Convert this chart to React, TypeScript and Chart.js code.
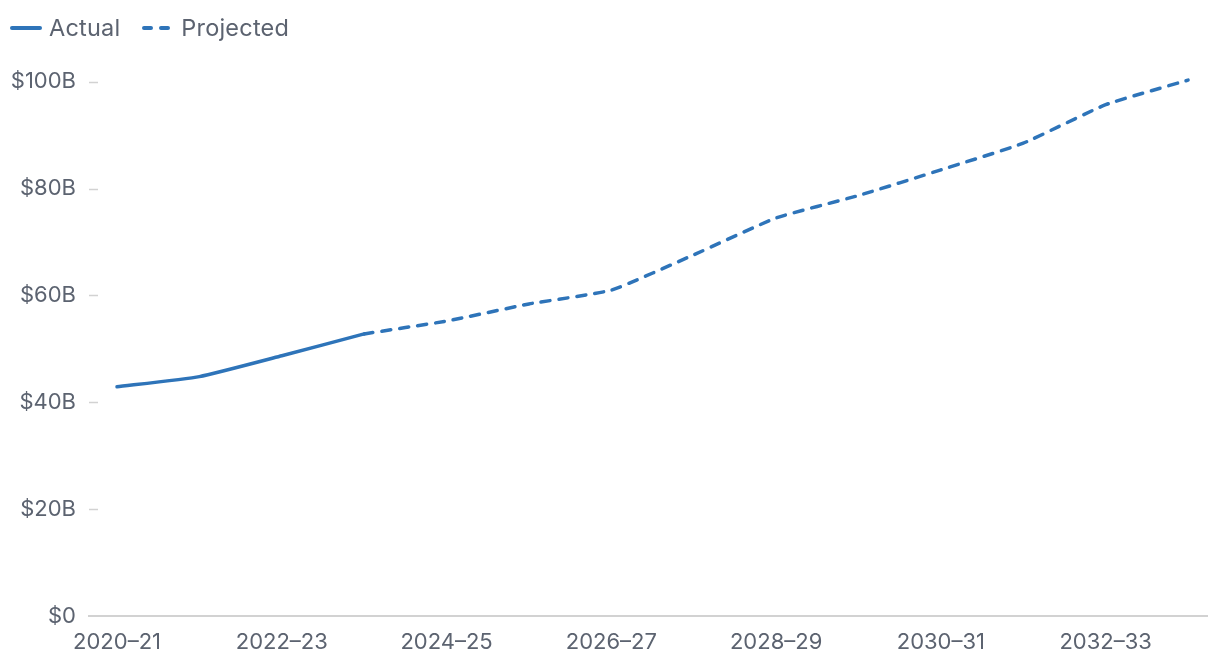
import React, { useEffect, useRef } from "react";
import { Chart, registerables } from "chart.js";

Chart.register(...registerables);

const categories = [
  "2020–21", "2021–22", "2022–23", "2023–24", "2024–25", "2025–26", "2026–27",
  "2027–28", "2028–29", "2029–30", "2030–31", "2031–32", "2032–33", "2033–34",
];
const actualValues: (number | null)[] = [42.9, 44.8, 48.7, 52.8, null, null, null, null, null, null, null, null, null, null];
const projectedValues: (number | null)[] = [null, null, null, 52.8, 55.2, 58.4, 61.0, 67.6, 74.5, 78.7, 83.5, 88.5, 95.7, 100.3];
const yTicks = [0, 20, 40, 60, 80, 100];
const xTickIndices = [0, 2, 4, 6, 8, 10, 12];

const BLUE = "#2e74b9";
const GRAY_TEXT = "#5c6370";
const AXIS = "#d2d2d2";
const FONT = "Inter, 'Noto Sans', sans-serif";

const toPoints = (vals: (number | null)[]) =>
  vals.map((v, i) => ({ x: i, y: v }));

const yTickMarks = {
  id: "yTickMarks",
  afterDraw(chart: any) {
    const { ctx, chartArea, scales } = chart;
    const y = scales.y;
    ctx.save();
    ctx.strokeStyle = AXIS;
    ctx.lineWidth = 1.5;
    for (const v of yTicks) {
      if (v === 0) continue;
      const py = Math.round(y.getPixelForValue(v)) + 0.5;
      ctx.beginPath();
      ctx.moveTo(chartArea.left, py);
      ctx.lineTo(chartArea.left + 9, py);
      ctx.stroke();
    }
    ctx.restore();
  },
};

export default function App() {
  const ref = useRef<HTMLCanvasElement | null>(null);

  useEffect(() => {
    if (!ref.current) return;
    const chart = new Chart(ref.current, {
      type: "line",
      data: {
        datasets: [
          {
            label: "Actual",
            data: toPoints(actualValues),
            borderColor: BLUE,
            borderWidth: 3.5,
            pointRadius: 0,
            tension: 0.15,
            borderCapStyle: "round",
            borderJoinStyle: "round",
            spanGaps: false,
          },
          {
            label: "Projected",
            data: toPoints(projectedValues),
            borderColor: BLUE,
            borderWidth: 3.5,
            borderDash: [9, 9],
            pointRadius: 0,
            tension: 0.15,
            borderCapStyle: "round",
            borderJoinStyle: "round",
            spanGaps: false,
          },
        ],
      },
      options: {
        animation: false,
        responsive: false,
        maintainAspectRatio: false,
        layout: { padding: { top: 55, right: 13, left: 0, bottom: 0 } },
        plugins: {
          legend: { display: false },
          tooltip: { enabled: false },
        },
        scales: {
          x: {
            type: "linear",
            min: -0.34,
            max: 13.23,
            afterBuildTicks: (scale: any) => {
              scale.ticks = xTickIndices.map((v) => ({ value: v }));
            },
            afterFit: (scale: any) => {
              scale.height = 50;
            },
            grid: { display: false, drawTicks: false },
            border: { display: true, color: AXIS, width: 2 },
            ticks: {
              autoSkip: false,
              maxRotation: 0,
              padding: 13,
              color: GRAY_TEXT,
              font: { family: FONT, size: 22 },
              callback: (v: any) => categories[Number(v)] ?? "",
            },
          },
          y: {
            type: "linear",
            min: 0,
            max: 105,
            afterBuildTicks: (scale: any) => {
              scale.ticks = yTicks.map((v) => ({ value: v }));
            },
            afterFit: (scale: any) => {
              scale.width = 89;
            },
            grid: { display: false, drawTicks: false },
            border: { display: false },
            ticks: {
              padding: 13,
              color: GRAY_TEXT,
              font: { family: FONT, size: 22 },
              callback: (v: any) => (Number(v) === 0 ? "$0" : `$${v}B`),
            },
          },
        },
      },
      plugins: [yTickMarks],
    } as any);
    return () => chart.destroy();
  }, []);

  return (
    <div style={{ position: "absolute", left: 0, top: 0, width: 1220, height: 666, background: "#fff" }}>
      <div
        style={{
          position: "absolute",
          left: 10,
          top: 13,
          display: "flex",
          alignItems: "center",
          fontFamily: FONT,
          fontSize: 23.5,
          letterSpacing: 0.2,
          color: GRAY_TEXT,
          lineHeight: "30px",
        }}
      >
        <span style={{ display: "inline-block", width: 32, height: 4, background: BLUE, borderRadius: 2, marginRight: 7 }} />
        <span>Actual</span>
        <svg width={32} height={6} style={{ marginLeft: 22, marginRight: 7 }}>
          <line x1={2} y1={3} x2={30} y2={3} stroke={BLUE} strokeWidth={4} strokeDasharray="7 10" strokeLinecap="round" />
        </svg>
        <span>Projected</span>
      </div>
      <canvas ref={ref} width={1220} height={666} style={{ display: "block" }} />
    </div>
  );
}
